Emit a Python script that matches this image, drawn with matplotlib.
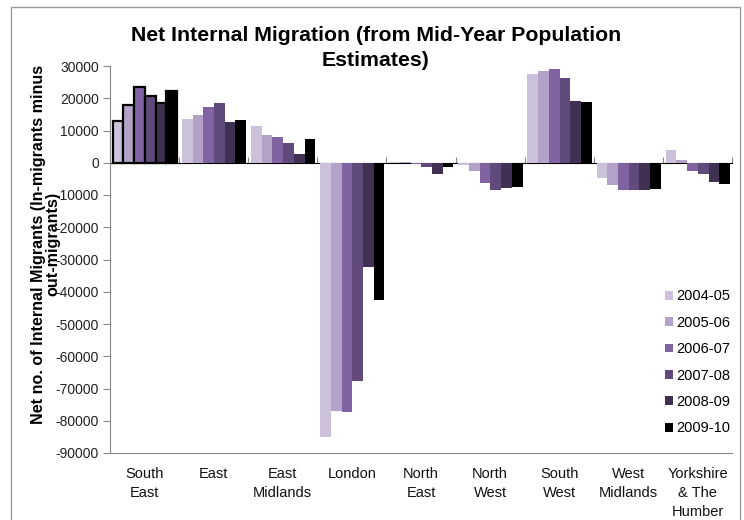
import matplotlib
matplotlib.use('Agg')
import matplotlib.pyplot as plt
from matplotlib.patches import Rectangle
import numpy as np

# data
regions = ['South\nEast', 'East', 'East\nMidlands', 'London', 'North\nEast',
           'North\nWest', 'South\nWest', 'West\nMidlands', 'Yorkshire\n& The\nHumber']
years = ['2004-05', '2005-06', '2006-07', '2007-08', '2008-09', '2009-10']
y0405 = [12800, 13700, 11500, -85000, 100, -800, 27600, -4800, 4100]
y0506 = [18000, 14900, 8700, -76900, 300, -2700, 28300, -7000, 1000]
y0607 = [23400, 17400, 8000, -77200, -500, -6300, 29200, -8400, -2700]
y0708 = [20800, 18600, 6200, -67600, -1200, -8600, 26300, -8400, -3400]
y0809 = [18500, 12700, 2800, -32200, -3600, -7700, 19250, -8600, -6000]
y0910 = [22100, 13300, 7400, -42500, -1200, -7400, 18900, -8100, -6500]
series = [y0405, y0506, y0607, y0708, y0809, y0910]
colors = ['#ccc1da', '#b3a2c7', '#8064a2', '#604a7b', '#403152', '#000000']
yticks = list(range(30000, -90001, -10000))
grid_vals = [30000, 20000, -10000, -30000, -50000, -60000, -70000, -80000]

plt.rcParams['font.family'] = ['Liberation Sans', 'DejaVu Sans']

fig = plt.figure(figsize=(7.44, 5.2), dpi=100)
ax = fig.add_axes([110/744, 1-453/520, (732-110)/744, (453-66)/520])

# outer chart frame
fig.patches.append(Rectangle((11/744, -0.05), (740-11)/744, 1-7/520+0.05,
                             transform=fig.transFigure, fill=False,
                             edgecolor='#9a9a9a', lw=1))

x = np.arange(len(regions))
w = 0.155
for i, vals in enumerate(series):
    ec = ['black'] + ['none'] * (len(regions) - 1)
    lw = [1.6] + [0] * (len(regions) - 1)
    ax.bar(x + (i - 2.5) * w + 0.005, vals, w, color=colors[i],
           edgecolor=ec, linewidth=lw, label=years[i], zorder=3)

ax.set_xlim(-0.5, len(regions) - 0.5)
ax.set_ylim(-90000, 30000)
ax.set_yticks(yticks)
ax.set_yticklabels([str(v) for v in yticks], fontsize=10, color='#222222')
ax.set_yticks(grid_vals, minor=True)
ax.grid(False)
ax.grid(True, which='minor', axis='y', color='#888888', lw=1, zorder=0)
ax.tick_params(axis='y', which='major', direction='out', length=5,
               color='#888888', pad=3)
ax.tick_params(axis='y', which='minor', length=0)

ax.set_xticks(x)
ax.set_xticklabels(regions, fontsize=10.5, linespacing=1.45, color='#111111')
ax.tick_params(axis='x', length=0, pad=10)

for s in ['top', 'right']:
    ax.spines[s].set_visible(False)
ax.spines['left'].set_color('#888888')
ax.spines['bottom'].set_color('#888888')

# horizontal category axis crossing at zero
zero_ax = ax.secondary_xaxis(90000 / 120000)
zero_ax.set_xticks(np.arange(-0.5, len(regions) + 0.5, 1))
zero_ax.set_xticklabels([])
zero_ax.tick_params(direction='out', length=4, color='#888888')
zero_ax.spines['bottom'].set_color('#888888')

ax.set_ylabel('Net no. of Internal Migrants (In-migrants minus\nout-migrants)',
              fontsize=11.6, fontweight='bold', linespacing=0.95)
ax.yaxis.set_label_coords(-0.08, 0.54)

fig.text(0.505, 1 - 48/520, 'Net Internal Migration (from Mid-Year Population\nEstimates)',
         ha='center', va='center', fontsize=15.3, fontweight='bold',
         linespacing=1.45)

leg = ax.legend(loc='upper left', bbox_to_anchor=(661/744, 1 - 285/520),
                bbox_transform=fig.transFigure, frameon=True, fancybox=False,
                edgecolor='none', facecolor='white', framealpha=1,
                fontsize=10.5, labelspacing=0.85, handlelength=0.55,
                handleheight=0.55, handletextpad=0.2, borderpad=0.3,
                borderaxespad=0)
for p in leg.get_patches():
    p.set_edgecolor('none')
leg.set_zorder(5)

fig.savefig('out.png', dpi=100)
